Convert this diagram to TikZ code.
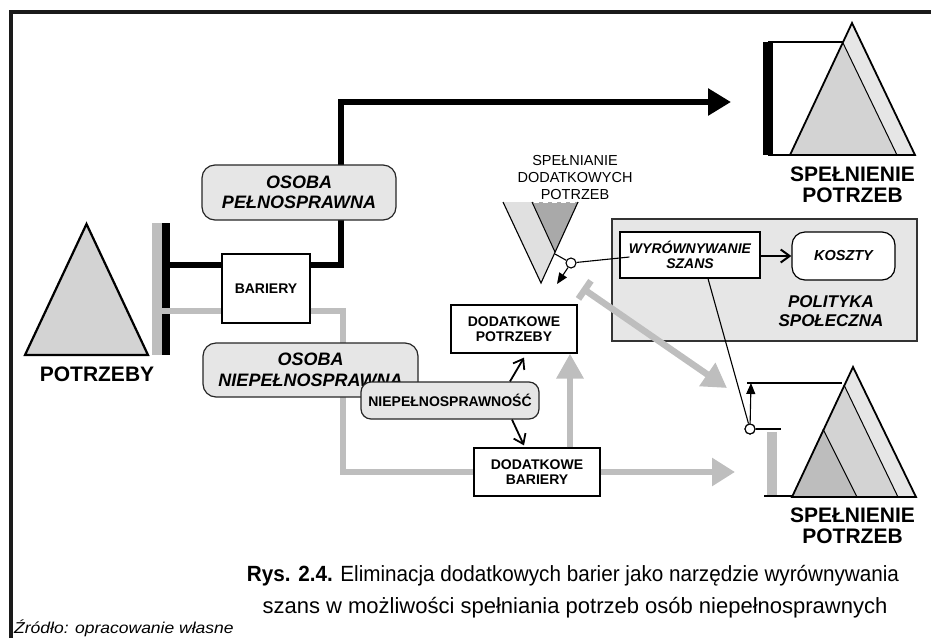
\documentclass[tikz,border=0pt]{standalone}
\usepackage{fontspec}
\setmainfont{Liberation Sans}
\usetikzlibrary{arrows.meta,calc}
\definecolor{frameblack}{HTML}{1A1A1A}
\definecolor{routegray}{HTML}{BEBEBE}
\definecolor{boxfill}{HTML}{E6E6E6}
\definecolor{tri1}{HTML}{D3D3D3}
\definecolor{tri2}{HTML}{BDBDBD}
\definecolor{tri3}{HTML}{E6E6E6}
\definecolor{tridark}{HTML}{A9A9A9}
\definecolor{trilight}{HTML}{E0E0E0}

\begin{document}
\begin{tikzpicture}[x=1pt,y=-1pt,
  plainbox/.style={draw=black, line width=1.2pt, fill=white, inner sep=0pt, align=center,
    font=\fontsize{14}{15.5}\selectfont\bfseries},
  softbox/.style={draw=black!85, line width=1.2pt, fill=boxfill, rounded corners=13pt,
    inner sep=0pt, align=center, font=\fontsize{18}{20.5}\selectfont\bfseries\itshape},
  blackroute/.style={line width=6pt, black},
  grayroute/.style={line width=6.5pt, routegray},
  thinline/.style={line width=1.1pt, black},
  joint/.style={circle, draw=black, line width=1.1pt, fill=white, minimum size=10pt, inner sep=0pt},
  biglabel/.style={font=\fontsize{21}{21}\selectfont\bfseries, align=center, inner sep=0pt},
  openhead/.style={-{Straight Barb[length=9pt,width=13pt]}, line width=1.8pt},
  smallhead/.style={-{Triangle[length=11pt,width=9pt]}, thinline},
]
\useasboundingbox (0,0) rectangle (931,638);

% outer frame (top and left edges)
\draw[line width=4pt, frameblack] (11,638) -- (11,12) -- (931,12);

% needs triangle
\draw[line width=2.2pt, fill=tri1, line join=miter] (25,355) -- (86.5,224) -- (148,355) -- cycle;
\node[biglabel] (potrzeby) at (97,374.5) {POTRZEBY};

% level bars next to the needs triangle
\fill[black] (162,223) rectangle (170,355);
\fill[routegray] (152,223) rectangle (162,355);
\coordinate (barB) at (166,265);
\coordinate (barG) at (157,311);

% satisfied needs, upper right
\fill[tri3] (790,155) -- (852,23) -- (915,155) -- cycle;
\fill[tri1] (790,155) -- (843,43) -- (897,155) -- cycle;
\draw[line width=1.8pt, line join=miter] (790,155) -- (852,23) -- (915,155) -- cycle;
\draw[line width=1pt] (843,43) -- (897,155);
\fill[black] (763,42) rectangle (773,155);
\draw[thinline] (768,42) -- (843,42);
\draw[thinline] (768,155) -- (790,155);
\coordinate (tipA) at (731,102);
\node[biglabel] (spelTop) at (852.5,185) {SPEŁNIENIE\\POTRZEB};

% satisfied needs, lower right
\fill[tri3] (792,497) -- (853,367) -- (916,497) -- cycle;
\fill[tri1] (792,497) -- (844,385) -- (898,497) -- cycle;
\fill[tri2] (792,497) -- (823,429) -- (857,497) -- cycle;
\draw[line width=1.8pt, line join=miter] (792,497) -- (853,367) -- (916,497) -- cycle;
\draw[line width=1pt] (844,385) -- (898,497);
\draw[line width=1pt] (823,429) -- (857,497);
\fill[routegray] (767,432) rectangle (777,496);
\draw[thinline] (764,496) -- (792,496);
\coordinate (tipG) at (735,472);
\node[biglabel] (spelBot) at (852.5,526) {SPEŁNIENIE\\POTRZEB};

% additional needs being met (inverted triangle)
\fill[trilight] (503,202) -- (578,202) -- (541,283) -- cycle;
\fill[tridark] (532,202) -- (578,202) -- (555,252) -- cycle;
\draw[line width=1.1pt] (503,202) -- (541,283) -- (578,202);
\draw[line width=1pt] (532,202) -- (555,252);
\draw[white, line width=1pt, dash pattern=on 5pt off 4pt] (534,202.5) -- (577,202.5);
\node[font=\fontsize{14.5}{17}\selectfont, align=center, inner sep=0pt] (spelDod) at (575,178)
  {SPEŁNIANIE\\DODATKOWYCH\\POTRZEB};

% boxes
\node[plainbox, minimum width=88pt, minimum height=69pt] (bariery) at (266,288.5) {BARIERY};
\node[plainbox, minimum width=126pt, minimum height=48pt] (dodP) at (514,329) {DODATKOWE\\POTRZEBY};
\node[plainbox, minimum width=126pt, minimum height=48pt] (dodB) at (537,472) {DODATKOWE\\BARIERY};

% social policy panel
\node[draw=black!80, line width=1.2pt, fill=boxfill, minimum width=305pt, minimum height=122pt,
  inner sep=0pt] (policy) at (764.5,280) {};
\node[plainbox, font=\fontsize{14}{15}\selectfont\bfseries\itshape,
  minimum width=140pt, minimum height=46pt] (wyr) at (690,255) {WYRÓWNYWANIE\\SZANS};
\node[plainbox, rounded corners=13pt, font=\fontsize{14.5}{15}\selectfont\bfseries\itshape,
  minimum width=103pt, minimum height=48pt] (koszty) at (843.5,256) {KOSZTY};
\node[font=\fontsize{17}{18.5}\selectfont\bfseries\itshape, align=center, inner sep=0pt]
  (politykaTxt) at (831,311) {POLITYKA\\SPOŁECZNA};
\draw[openhead, line width=2pt] (wyr.east |- koszty.west) -- (koszty.west);

% route of the able-bodied person
\draw[blackroute] (barB) -- (barB -| bariery.west);
\draw[blackroute, line join=miter, -{Triangle[length=23pt,width=26pt]}]
  (bariery.east |- barB) -- (341,265) -- (341,102) -- (tipA);

% route of the disabled person
\coordinate (riseX) at (570,0);
\draw[grayroute] (barG) -- (barG -| bariery.west);
\draw[grayroute, line join=miter] (bariery.east |- barG) -- (343,311) -- (343,472) -- (dodB.west);
\draw[grayroute, -{Triangle[length=23pt,width=27pt]}] (dodB.east) -- (tipG);
\draw[grayroute, -{Triangle[length=25pt,width=26pt]}] (dodB.north -| riseX) -- (dodP.south -| riseX);

% person boxes over the routes
\node[softbox, minimum width=194pt, minimum height=55pt] (osobaP) at (299,192.5) {OSOBA\\PEŁNOSPRAWNA};
\node[softbox, minimum width=215pt, minimum height=54pt] (osobaN) at (310.5,370) {OSOBA\\NIEPEŁNOSPRAWNA};
\node[softbox, rounded corners=10pt, font=\fontsize{14}{15}\selectfont\bfseries,
  minimum width=178pt, minimum height=37pt] (niep) at (450,400.5) {NIEPEŁNOSPRAWNOŚĆ};

% disability leads to extra needs and extra barriers
\draw[openhead] ($(niep.north)+(60,0)$) -- ($(dodP.south)+(10,4)$);
\draw[openhead] ($(niep.south)+(62,0)$) -- ($(dodB.north)+(-13,-2)$);

% compensating flow
\coordinate (teeStart) at (582,288);
\coordinate (tipD) at (727,388);
\draw[grayroute, {Bar[width=22pt]}-{Triangle[length=24pt,width=27pt]}] (teeStart) -- (tipD);

% equalising opportunities: links and joints
\node[joint] (c1) at (571,263) {};
\coordinate (c1edge) at (555,254);
\coordinate (c1tip) at (557,284);
\draw[thinline] (c1) -- (c1edge);
\draw[smallhead] (c1) -- (c1tip);
\draw[thinline] (c1) -- ($(wyr.west)+(10,2)$);

\node[joint] (c2) at (750,429) {};
\coordinate (c2top) at (751,383);
\draw[thinline] ($(wyr.south)+(18,0)$) -- (c2);
\draw[smallhead] (c2) -- (c2top);
\draw[thinline] (747,383) -- (842,383);
\draw[thinline] (c2) -- (781,429);
\node[joint] at (c2) {};

% caption and source
\node[anchor=base, inner sep=0pt, font=\fontsize{22}{22}\selectfont] (cap1) at (573,581)
  {\scalebox{0.94}[1]{\textbf{Rys. 2.4.} Eliminacja dodatkowych barier jako narzędzie wyrównywania}};
\node[anchor=base, inner sep=0pt, font=\fontsize{22}{22}\selectfont] (cap2) at (575,613)
  {szans w możliwości spełniania potrzeb osób niepełnosprawnych};
\node[anchor=base west, inner sep=0pt, font=\fontsize{17.5}{17.5}\selectfont\itshape] (src) at (14,633)
  {\scalebox{1}[0.9]{Źródło: opracowanie własne}};
\end{tikzpicture}
\end{document}
